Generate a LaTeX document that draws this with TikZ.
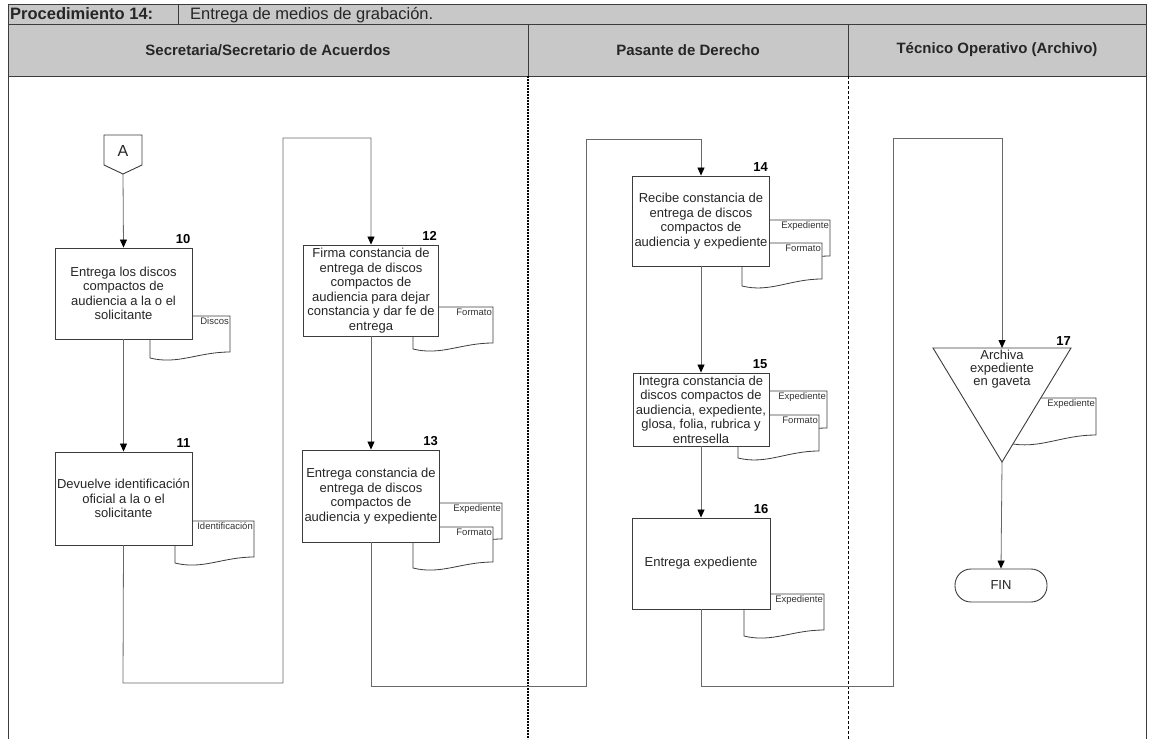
\documentclass[tikz,border=0pt]{standalone}
\usepackage{fontspec}
\setmainfont{Liberation Sans}
\usetikzlibrary{arrows.meta,calc}
\definecolor{hdrgray}{RGB}{200,200,200}
\definecolor{linegray}{RGB}{105,105,105}
\definecolor{boxline}{RGB}{60,60,60}

% document symbol: x1, top, x2, bottom at right, bottom at left, node name, label
\newcommand\docsym[7]{%
  \draw[docline] (#1,#2) -- (#3,#2) -- (#3,#4)
    .. controls ({#3-0.4*(#3-#1)},#4) and ({#1+0.35*(#3-#1)},{#5+7}) .. (#1,#5) -- cycle;
  \node[doclabel, anchor=north east] (#6) at ({#3-1},{#2+1.5}) {#7};}

\begin{document}
\begin{tikzpicture}[x=1pt,y=-1pt,
  every node/.style={font=\fontsize{13}{14.5}\selectfont},
  task/.style={draw=boxline, fill=white, line width=0.9pt, align=center, inner sep=2pt, text=black!85},
  num/.style={font=\fontsize{13}{13}\bfseries\selectfont, anchor=south east, inner sep=0pt},
  docline/.style={draw=boxline, fill=white, line width=0.8pt},
  doclabel/.style={font=\fontsize{9.5}{10}\selectfont, inner sep=0pt, text=black!80},
  flow/.style={draw=linegray, line width=0.8pt, -{Triangle[length=8pt,width=7pt,color=black]}},
  hdr/.style={font=\fontsize{15}{17}\bfseries\selectfont, text=black!85},
]
\useasboundingbox (0,0) rectangle (1155,739);

% ---------- header band ----------
\fill[hdrgray] (8,4) rectangle (1146,76);
\draw[boxline, line width=0.9pt] (8,739) -- (8,4) -- (1146,4) -- (1146,739);
\draw[boxline, line width=0.9pt] (8,24) -- (1146,24);
\draw[boxline, line width=0.9pt] (8,76) -- (1146,76);
\draw[boxline, line width=0.9pt] (178,4) -- (178,24);
\draw[boxline, line width=0.9pt] (528,24) -- (528,76);
\draw[boxline, line width=0.9pt] (848,24) -- (848,76);
\node[font=\fontsize{16.5}{17}\bfseries\selectfont, text=black!85, anchor=base west, inner sep=0pt] (proc) at (10,19.5) {Procedimiento 14:};
\node[font=\fontsize{16.5}{17}\selectfont, text=black!85, anchor=base west, inner sep=0pt] (ptitle) at (190,19.5) {Entrega de medios de grabación.};
\node[hdr] (lane1) at (268,50) {Secretaria/Secretario de Acuerdos};
\node[hdr] (lane2) at (688,50) {Pasante de Derecho};
\node[hdr] (lane3) at (997,50) {Técnico Operativo (Archivo)};

% lane separators
\draw[black, line width=1.4pt, dash pattern=on 2pt off 1pt] (528,76) -- (528,739);
\draw[black, line width=0.6pt, dash pattern=on 3pt off 2pt] (848,76) -- (848,739);

% ---------- documents (drawn first, boxes overlap them) ----------
\docsym{150}{316}{230}{352}{358}{d10}{Discos}
\docsym{175}{521}{254}{557}{563}{d11}{Identificación}
\docsym{413}{307}{493}{343}{349}{d12}{Formato}
\docsym{422}{503}{502}{539}{545}{d13a}{Expediente}
\docsym{413}{527}{493}{562}{568}{d13b}{Formato}
\docsym{750}{220}{830}{256}{262}{d14a}{Expediente}
\docsym{742}{243}{822}{279}{286}{d14b}{Formato}
\docsym{746}{391}{827}{428}{434}{d15a}{Expediente}
\docsym{738}{415}{819}{451}{458}{d15b}{Formato}
\docsym{744}{594}{824}{630}{636}{d16}{Expediente}
\docsym{1008}{398}{1096}{435}{443}{d17}{Expediente}

% ---------- off-page connector A ----------
\draw[docline, line width=0.9pt] (104,135) -- (142,135) -- (142,165) -- (123,174) -- (104,165) -- cycle;
\node[font=\fontsize{16}{16}\selectfont, text=black!85] (A) at (123,151) {A};
\coordinate (Atip) at (123,174);

% ---------- activities ----------
\node[task, minimum width=137pt, minimum height=91pt] (t10) at (123.5,293.5)
  {Entrega los discos\\compactos de\\audiencia a la o el\\solicitante};
\node[task, minimum width=137pt, minimum height=93pt] (t11) at (123.5,498.5)
  {Devuelve identificación\\oficial a la o el\\solicitante};
\node[task, minimum width=135pt, minimum height=91pt] (t12) at (371,290.5)
  {Firma constancia de\\entrega de discos\\compactos de\\audiencia para dejar\\constancia y dar fe de\\entrega};
\node[task, minimum width=137pt, minimum height=92pt] (t13) at (371,496)
  {Entrega constancia de\\entrega de discos\\compactos de\\audiencia y expediente};
\node[task, minimum width=134pt, minimum height=90pt] (t14) at (701,221)
  {Recibe constancia de\\entrega de discos\\compactos de\\audiencia y expediente};
\node[task, minimum width=136pt, minimum height=73pt] (t15) at (701,409.5)
  {Integra constancia de\\discos compactos de\\audiencia, expediente,\\glosa, folia, rubrica y\\entresella};
\node[task, minimum width=138pt, minimum height=91pt] (t16) at (701,563.5)
  {Entrega expediente};

% step numbers
\node[num] (n10) at ($(t10.north east)+(-2,-4)$) {10};
\node[num] (n11) at ($(t11.north east)+(-2,-4)$) {11};
\node[num] (n12) at ($(t12.north east)+(-2,-4)$) {12};
\node[num] (n13) at ($(t13.north east)+(-2,-4)$) {13};
\node[num] (n14) at ($(t14.north east)+(-2,-4)$) {14};
\node[num] (n15) at ($(t15.north east)+(-2,-4)$) {15};
\node[num] (n16) at ($(t16.north east)+(-2,-4)$) {16};

% ---------- archive (triangle) ----------
\coordinate (arcL) at (933,348);
\coordinate (arcR) at (1071,348);
\coordinate (arcTip) at (1002,462);
\coordinate (arcTop) at (1002,348);
\draw[docline, line width=0.9pt] (arcL) -- (arcR) -- (arcTip) -- cycle;
\node[align=center, font=\fontsize{13}{13}\selectfont, text=black!85, inner sep=0pt] (t17) at (1002,369)
  {Archiva\\expediente\\en gaveta};
\node[num] (n17) at ($(arcR)+(0,-2)$) {17};

% ---------- end ----------
\node[draw=boxline, fill=white, line width=0.9pt, rounded corners=16pt, text=black!85,
      minimum width=92pt, minimum height=33pt] (fin) at (1001,585.5) {FIN};

% ---------- flow ----------
\draw[flow] (Atip) -- (t10.north);
\draw[flow] (t10.south) -- (t11.north);
\coordinate (r1a) at (123,683);
\coordinate (r1b) at (283,683);
\coordinate (r1c) at (283,138);
\coordinate (r1d) at (371,138);
\draw[flow] (t11.south) -- (r1a) -- (r1b) -- (r1c) -- (r1d) -- (t12.north);
\draw[flow] (t12.south) -- (t13.north);
\coordinate (r2a) at (371,686);
\coordinate (r2b) at (586,686);
\coordinate (r2c) at (586,139);
\coordinate (r2d) at (701,139);
\draw[flow] (t13.south) -- (r2a) -- (r2b) -- (r2c) -- (r2d) -- (t14.north);
\draw[flow] (t14.south) -- (t15.north);
\draw[flow] (t15.south) -- (t16.north);
\coordinate (r3a) at (701,686);
\coordinate (r3b) at (893,686);
\coordinate (r3c) at (893,138);
\coordinate (r3d) at (1002,138);
\draw[flow] (t16.south) -- (r3a) -- (r3b) -- (r3c) -- (r3d) -- (arcTop);
\draw[flow] (arcTip) -- (fin.north);
\end{tikzpicture}
\end{document}
